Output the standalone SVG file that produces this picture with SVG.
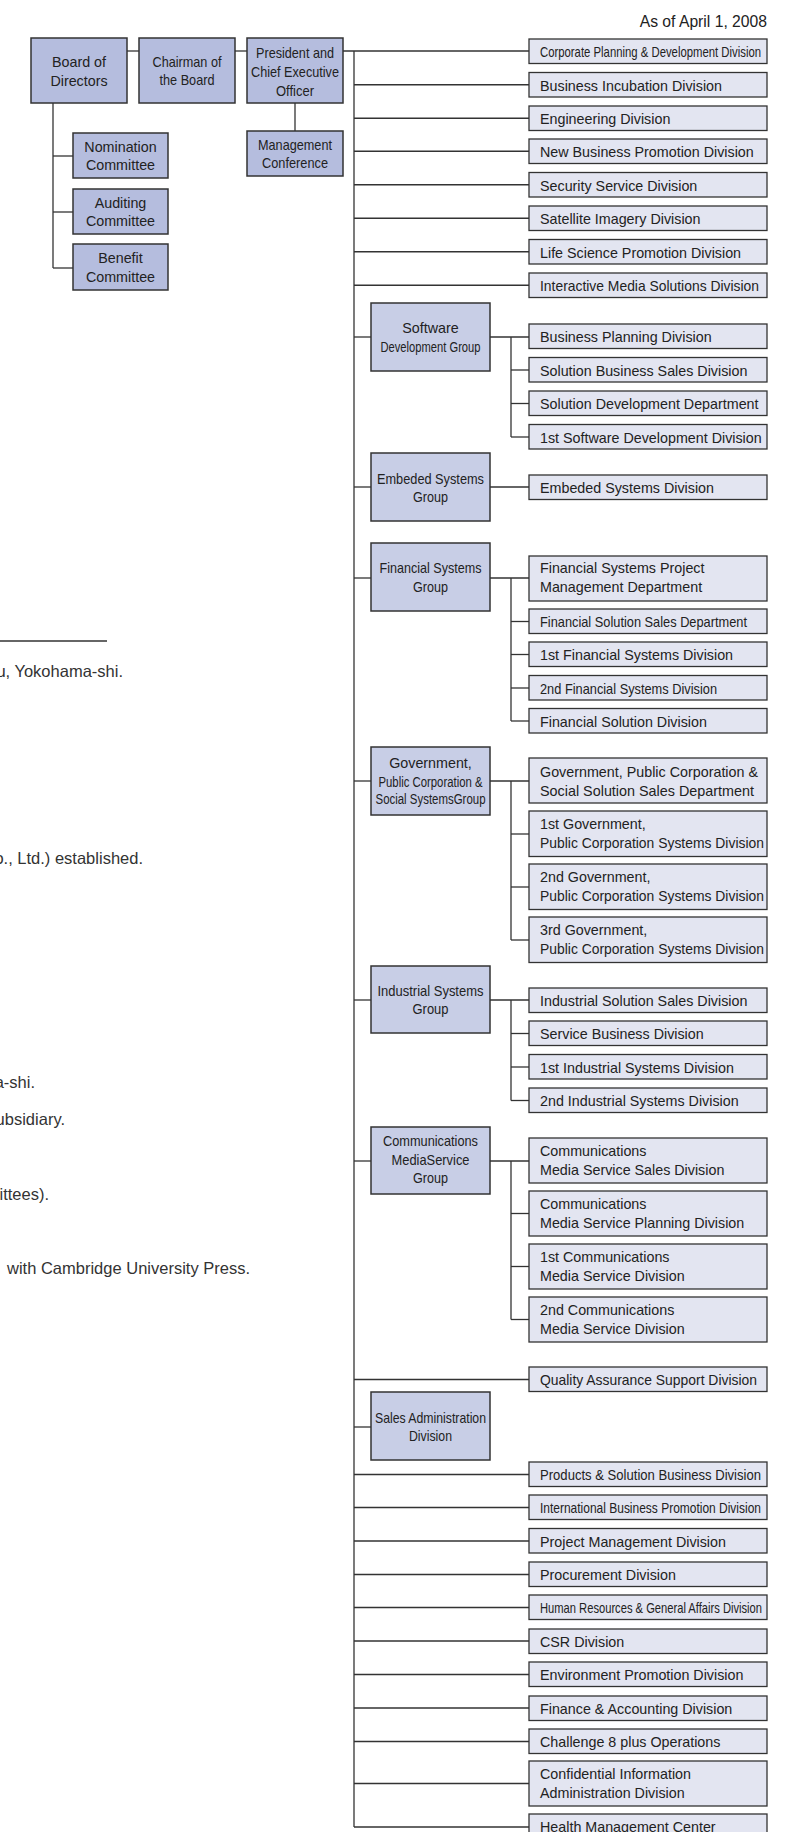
<svg xmlns="http://www.w3.org/2000/svg" width="795" height="1832" viewBox="0 0 795 1832">
<style>
.top{fill:#b5bdde;stroke:#333;stroke-width:1.5}
.grp{fill:#c8cee6;stroke:#333;stroke-width:1.5}
.dv{fill:#e3e5f1;stroke:#333;stroke-width:1.3}
text{font-family:"Liberation Sans",Arial,Helvetica,sans-serif;font-size:14.3px;fill:#222}
.c{text-anchor:middle}
.s{font-size:13.8px}
.side{font-size:16.5px;fill:#333}
.e{text-anchor:end}
#connectors line{stroke:#333;stroke-width:1.3}
</style>
<rect width="795" height="1832" fill="#fff"/>
<text class="e" x="767" y="27" style="font-size:15.7px">As of April 1, 2008</text>

<g id="side-text">
<line x1="0" y1="641" x2="107" y2="641" stroke="#333" stroke-width="1.3"/>
<text class="side e" x="123" y="677">u, Yokohama-shi.</text>
<text class="side e" x="143" y="864">o., Ltd.) established.</text>
<text class="side e" x="35" y="1087.5">a-shi.</text>
<text class="side e" x="65" y="1125">ubsidiary.</text>
<text class="side e" x="49" y="1200">ittees).</text>
<text class="side" x="7" y="1274">with Cambridge University Press.</text>
</g>

<g id="connectors">
<line x1="127" y1="51" x2="139" y2="51"/>
<line x1="235" y1="51" x2="247" y2="51"/>
<line x1="343" y1="51" x2="529" y2="51"/>
<line x1="295" y1="103" x2="295" y2="131"/>
<line x1="53" y1="103" x2="53" y2="268"/>
<line x1="53" y1="156" x2="73" y2="156"/>
<line x1="53" y1="212" x2="73" y2="212"/>
<line x1="53" y1="268" x2="73" y2="268"/>
<line x1="354" y1="51" x2="354" y2="1827"/>
<line x1="354" y1="84.75" x2="529" y2="84.75"/>
<line x1="354" y1="118.25" x2="529" y2="118.25"/>
<line x1="354" y1="151.25" x2="529" y2="151.25"/>
<line x1="354" y1="184.75" x2="529" y2="184.75"/>
<line x1="354" y1="218.25" x2="529" y2="218.25"/>
<line x1="354" y1="251.75" x2="529" y2="251.75"/>
<line x1="354" y1="285.25" x2="529" y2="285.25"/>
<line x1="354" y1="337" x2="371" y2="337"/>
<line x1="490" y1="337" x2="529" y2="337"/>
<line x1="511" y1="337" x2="511" y2="437"/>
<line x1="511" y1="370" x2="529" y2="370"/>
<line x1="511" y1="403.5" x2="529" y2="403.5"/>
<line x1="511" y1="437" x2="529" y2="437"/>
<line x1="354" y1="487" x2="371" y2="487"/>
<line x1="490" y1="487" x2="529" y2="487"/>
<line x1="354" y1="578" x2="371" y2="578"/>
<line x1="490" y1="578" x2="529" y2="578"/>
<line x1="511" y1="578" x2="511" y2="721"/>
<line x1="511" y1="621.5" x2="529" y2="621.5"/>
<line x1="511" y1="654.5" x2="529" y2="654.5"/>
<line x1="511" y1="688" x2="529" y2="688"/>
<line x1="511" y1="721" x2="529" y2="721"/>
<line x1="354" y1="781" x2="371" y2="781"/>
<line x1="490" y1="781" x2="529" y2="781"/>
<line x1="511" y1="781" x2="511" y2="940"/>
<line x1="511" y1="834" x2="529" y2="834"/>
<line x1="511" y1="887" x2="529" y2="887"/>
<line x1="511" y1="940" x2="529" y2="940"/>
<line x1="354" y1="1000" x2="371" y2="1000"/>
<line x1="490" y1="1000" x2="529" y2="1000"/>
<line x1="511" y1="1000" x2="511" y2="1100.5"/>
<line x1="511" y1="1033.5" x2="529" y2="1033.5"/>
<line x1="511" y1="1067" x2="529" y2="1067"/>
<line x1="511" y1="1100.5" x2="529" y2="1100.5"/>
<line x1="354" y1="1161" x2="371" y2="1161"/>
<line x1="490" y1="1161" x2="529" y2="1161"/>
<line x1="511" y1="1161" x2="511" y2="1319.5"/>
<line x1="511" y1="1213.5" x2="529" y2="1213.5"/>
<line x1="511" y1="1266.5" x2="529" y2="1266.5"/>
<line x1="511" y1="1319.5" x2="529" y2="1319.5"/>
<line x1="354" y1="1379.5" x2="529" y2="1379.5"/>
<line x1="354" y1="1427" x2="371" y2="1427"/>
<line x1="354" y1="1474.5" x2="529" y2="1474.5"/>
<line x1="354" y1="1507.5" x2="529" y2="1507.5"/>
<line x1="354" y1="1541" x2="529" y2="1541"/>
<line x1="354" y1="1574.5" x2="529" y2="1574.5"/>
<line x1="354" y1="1607.5" x2="529" y2="1607.5"/>
<line x1="354" y1="1641" x2="529" y2="1641"/>
<line x1="354" y1="1674.5" x2="529" y2="1674.5"/>
<line x1="354" y1="1708" x2="529" y2="1708"/>
<line x1="354" y1="1741.5" x2="529" y2="1741.5"/>
<line x1="354" y1="1783.5" x2="529" y2="1783.5"/>
<line x1="354" y1="1827" x2="529" y2="1827"/>
</g>

<g id="board"><rect class="top" x="31" y="38" width="96" height="65"/><text class="c" x="79" y="67">Board of</text><text class="c" x="79" y="86">Directors</text></g>
<g id="chairman"><rect class="top" x="139" y="38" width="96" height="65"/><text class="c" x="187" y="67" textLength="69" lengthAdjust="spacingAndGlyphs">Chairman of</text><text class="c" x="187" y="85" textLength="55" lengthAdjust="spacingAndGlyphs">the Board</text></g>
<g id="president"><rect class="top" x="247" y="38" width="96" height="65"/><text class="c" x="295" y="58" textLength="78" lengthAdjust="spacingAndGlyphs">President and</text><text class="c" x="295" y="77" textLength="88" lengthAdjust="spacingAndGlyphs">Chief Executive</text><text class="c" x="295" y="95.5" textLength="38" lengthAdjust="spacingAndGlyphs">Officer</text></g>
<g id="mgmt-conf"><rect class="top" x="247" y="131" width="96" height="45"/><text class="c" x="295" y="150" textLength="74" lengthAdjust="spacingAndGlyphs">Management</text><text class="c" x="295" y="168" textLength="66" lengthAdjust="spacingAndGlyphs">Conference</text></g>
<g id="nomination"><rect class="top" x="73" y="133" width="95" height="45"/><text class="c" x="120.5" y="152">Nomination</text><text class="c" x="120.5" y="170">Committee</text></g>
<g id="auditing"><rect class="top" x="73" y="189" width="95" height="45"/><text class="c" x="120.5" y="207.5">Auditing</text><text class="c" x="120.5" y="226">Committee</text></g>
<g id="benefit"><rect class="top" x="73" y="244" width="95" height="46"/><text class="c" x="120.5" y="263">Benefit</text><text class="c" x="120.5" y="282">Committee</text></g>

<g id="d-corp-planning"><rect class="dv" x="529" y="39" width="238" height="24.5"/><text x="540" y="57" textLength="221" lengthAdjust="spacingAndGlyphs">Corporate Planning &amp; Development Division</text></g>
<g id="d-biz-incubation"><rect class="dv" x="529" y="72.5" width="238" height="24.5"/><text x="540" y="90.5">Business Incubation Division</text></g>
<g id="d-engineering"><rect class="dv" x="529" y="106" width="238" height="24.5"/><text x="540" y="124">Engineering Division</text></g>
<g id="d-new-biz"><rect class="dv" x="529" y="139" width="238" height="24.5"/><text x="540" y="157">New Business Promotion Division</text></g>
<g id="d-security"><rect class="dv" x="529" y="172.5" width="238" height="24.5"/><text x="540" y="190.5">Security Service Division</text></g>
<g id="d-satellite"><rect class="dv" x="529" y="206" width="238" height="24.5"/><text x="540" y="224">Satellite Imagery Division</text></g>
<g id="d-life-science"><rect class="dv" x="529" y="239.5" width="238" height="24.5"/><text x="540" y="257.5">Life Science Promotion Division</text></g>
<g id="d-interactive"><rect class="dv" x="529" y="273" width="238" height="24.5"/><text x="540" y="291" textLength="219" lengthAdjust="spacingAndGlyphs">Interactive Media Solutions Division</text></g>

<g id="g-software"><rect class="grp" x="371" y="303" width="119" height="68"/><text class="c" x="430.5" y="333">Software</text><text class="c s" x="430.5" y="352" textLength="100" lengthAdjust="spacingAndGlyphs">Development Group</text></g>
<g id="d-biz-planning"><rect class="dv" x="529" y="324" width="238" height="24.5"/><text x="540" y="342">Business Planning Division</text></g>
<g id="d-sol-biz-sales"><rect class="dv" x="529" y="357.5" width="238" height="24.5"/><text x="540" y="375.5">Solution Business Sales Division</text></g>
<g id="d-sol-dev"><rect class="dv" x="529" y="391" width="238" height="24.5"/><text x="540" y="409">Solution Development Department</text></g>
<g id="d-1st-software"><rect class="dv" x="529" y="424.5" width="238" height="24.5"/><text x="540" y="442.5">1st Software Development Division</text></g>

<g id="g-embeded"><rect class="grp" x="371" y="453" width="119" height="68"/><text class="c" x="430.5" y="484" textLength="107" lengthAdjust="spacingAndGlyphs">Embeded Systems</text><text class="c" x="430.5" y="502" textLength="35" lengthAdjust="spacingAndGlyphs">Group</text></g>
<g id="d-embeded"><rect class="dv" x="529" y="475" width="238" height="24.5"/><text x="540" y="493">Embeded Systems Division</text></g>

<g id="g-financial"><rect class="grp" x="371" y="543" width="119" height="68"/><text class="c" x="430.5" y="573" textLength="102" lengthAdjust="spacingAndGlyphs">Financial Systems</text><text class="c" x="430.5" y="591.5" textLength="35" lengthAdjust="spacingAndGlyphs">Group</text></g>
<g id="d-fin-pm"><rect class="dv" x="529" y="556" width="238" height="45"/><text x="540" y="573">Financial Systems Project</text><text x="540" y="592">Management Department</text></g>
<g id="d-fin-sales"><rect class="dv" x="529" y="609" width="238" height="24.5"/><text x="540" y="627" textLength="207" lengthAdjust="spacingAndGlyphs">Financial Solution Sales Department</text></g>
<g id="d-1st-fin"><rect class="dv" x="529" y="642" width="238" height="24.5"/><text x="540" y="660">1st Financial Systems Division</text></g>
<g id="d-2nd-fin"><rect class="dv" x="529" y="675.5" width="238" height="24.5"/><text x="540" y="693.5" textLength="177" lengthAdjust="spacingAndGlyphs">2nd Financial Systems Division</text></g>
<g id="d-fin-sol"><rect class="dv" x="529" y="708.5" width="238" height="24.5"/><text x="540" y="726.5">Financial Solution Division</text></g>

<g id="g-government"><rect class="grp" x="371" y="747" width="119" height="68"/><text class="c" x="430.5" y="768">Government,</text><text class="c s" x="430.5" y="786.5" textLength="104" lengthAdjust="spacingAndGlyphs">Public Corporation &amp;</text><text class="c s" x="430.5" y="804" textLength="110" lengthAdjust="spacingAndGlyphs">Social SystemsGroup</text></g>
<g id="d-gov-sales"><rect class="dv" x="529" y="758" width="238" height="45"/><text x="540" y="777" textLength="218" lengthAdjust="spacingAndGlyphs">Government, Public Corporation &amp;</text><text x="540" y="796" textLength="214" lengthAdjust="spacingAndGlyphs">Social Solution Sales Department</text></g>
<g id="d-1st-gov"><rect class="dv" x="529" y="811" width="238" height="45.5"/><text x="540" y="828.5">1st Government,</text><text x="540" y="847.5" textLength="224" lengthAdjust="spacingAndGlyphs">Public Corporation Systems Division</text></g>
<g id="d-2nd-gov"><rect class="dv" x="529" y="864" width="238" height="45.5"/><text x="540" y="881.5">2nd Government,</text><text x="540" y="900.5" textLength="224" lengthAdjust="spacingAndGlyphs">Public Corporation Systems Division</text></g>
<g id="d-3rd-gov"><rect class="dv" x="529" y="917" width="238" height="45.5"/><text x="540" y="934.5">3rd Government,</text><text x="540" y="953.5" textLength="224" lengthAdjust="spacingAndGlyphs">Public Corporation Systems Division</text></g>

<g id="g-industrial"><rect class="grp" x="371" y="966" width="119" height="67"/><text class="c" x="430.5" y="996" textLength="106" lengthAdjust="spacingAndGlyphs">Industrial Systems</text><text class="c" x="430.5" y="1014" textLength="36" lengthAdjust="spacingAndGlyphs">Group</text></g>
<g id="d-ind-sales"><rect class="dv" x="529" y="988" width="238" height="24.5"/><text x="540" y="1006">Industrial Solution Sales Division</text></g>
<g id="d-service-biz"><rect class="dv" x="529" y="1021" width="238" height="24.5"/><text x="540" y="1039">Service Business Division</text></g>
<g id="d-1st-ind"><rect class="dv" x="529" y="1054.5" width="238" height="24.5"/><text x="540" y="1072.5">1st Industrial Systems Division</text></g>
<g id="d-2nd-ind"><rect class="dv" x="529" y="1088" width="238" height="24.5"/><text x="540" y="1106">2nd Industrial Systems Division</text></g>

<g id="g-comm"><rect class="grp" x="371" y="1127" width="119" height="67"/><text class="c" x="430.5" y="1146" textLength="95" lengthAdjust="spacingAndGlyphs">Communications</text><text class="c" x="430.5" y="1164.5" textLength="78" lengthAdjust="spacingAndGlyphs">MediaService</text><text class="c" x="430.5" y="1183" textLength="35" lengthAdjust="spacingAndGlyphs">Group</text></g>
<g id="d-comm-sales"><rect class="dv" x="529" y="1138" width="238" height="45"/><text x="540" y="1155.5">Communications</text><text x="540" y="1174.5">Media Service Sales Division</text></g>
<g id="d-comm-planning"><rect class="dv" x="529" y="1191" width="238" height="45"/><text x="540" y="1208.5">Communications</text><text x="540" y="1227.5">Media Service Planning Division</text></g>
<g id="d-1st-comm"><rect class="dv" x="529" y="1244" width="238" height="45"/><text x="540" y="1261.5">1st Communications</text><text x="540" y="1280.5">Media Service Division</text></g>
<g id="d-2nd-comm"><rect class="dv" x="529" y="1297" width="238" height="45"/><text x="540" y="1314.5">2nd Communications</text><text x="540" y="1333.5">Media Service Division</text></g>

<g id="d-quality"><rect class="dv" x="529" y="1367" width="238" height="24.5"/><text x="540" y="1385" textLength="217" lengthAdjust="spacingAndGlyphs">Quality Assurance Support Division</text></g>
<g id="g-sales-admin"><rect class="grp" x="371" y="1392" width="119" height="68"/><text class="c" x="430.5" y="1422.5" textLength="111" lengthAdjust="spacingAndGlyphs">Sales Administration</text><text class="c" x="430.5" y="1440.5" textLength="43" lengthAdjust="spacingAndGlyphs">Division</text></g>
<g id="d-products"><rect class="dv" x="529" y="1462" width="238" height="24.5"/><text x="540" y="1480" textLength="221" lengthAdjust="spacingAndGlyphs">Products &amp; Solution Business Division</text></g>
<g id="d-international"><rect class="dv" x="529" y="1495" width="238" height="24.5"/><text x="540" y="1513" textLength="221" lengthAdjust="spacingAndGlyphs">International Business Promotion Division</text></g>
<g id="d-project-mgmt"><rect class="dv" x="529" y="1528.5" width="238" height="24.5"/><text x="540" y="1546.5">Project Management Division</text></g>
<g id="d-procurement"><rect class="dv" x="529" y="1562" width="238" height="24.5"/><text x="540" y="1580">Procurement Division</text></g>
<g id="d-hr"><rect class="dv" x="529" y="1595" width="238" height="24.5"/><text x="540" y="1613" textLength="222" lengthAdjust="spacingAndGlyphs">Human Resources &amp; General Affairs Division</text></g>
<g id="d-csr"><rect class="dv" x="529" y="1629" width="238" height="24.5"/><text x="540" y="1647">CSR Division</text></g>
<g id="d-environment"><rect class="dv" x="529" y="1662" width="238" height="24.5"/><text x="540" y="1680">Environment Promotion Division</text></g>
<g id="d-finance"><rect class="dv" x="529" y="1696" width="238" height="24.5"/><text x="540" y="1714">Finance &amp; Accounting Division</text></g>
<g id="d-challenge"><rect class="dv" x="529" y="1729" width="238" height="24.5"/><text x="540" y="1747">Challenge 8 plus Operations</text></g>
<g id="d-confidential"><rect class="dv" x="529" y="1761" width="238" height="45"/><text x="540" y="1778.5">Confidential Information</text><text x="540" y="1797.5">Administration Division</text></g>
<g id="d-health"><rect class="dv" x="529" y="1814" width="238" height="26"/><text x="540" y="1832">Health Management Center</text></g>
</svg>
